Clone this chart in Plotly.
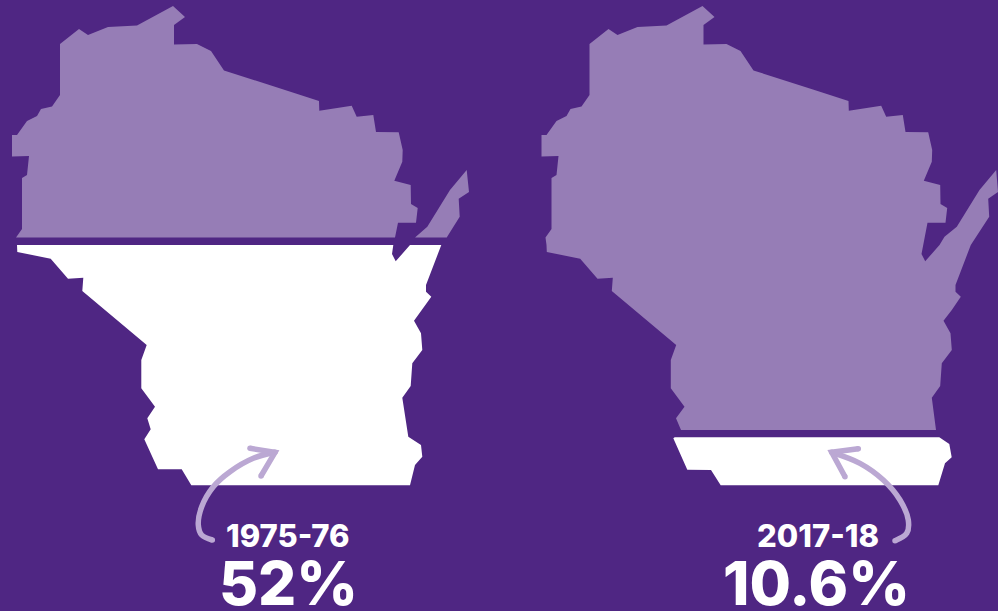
import plotly.graph_objects as go

PURPLE = "#4F2683"
LAVENDER = "#967DB6"
ARROW = "#BBA8D3"

# Outline vertices of the state
left_upper_x = [16,22,22,27,29,12,12,17,27,37,41,52,60,60,79,88,108,137,173,185,174,174,197,211,224,240,285,319,319.3,351.7,356.7,373.3,376,398.7,402.7,402.3,394.3,410.7,411,417.7,416,398,395]
left_upper_y = [237.5,229,178,175,156,156.5,135,135,121,116,109,106.5,95,44,29,35,27,25.5,6,17,25,44.5,44,51,70.5,75.5,90,101,110.7,105.7,116.7,115,132,132.3,150,161.7,180.7,185,204,208,222.7,222.7,237.5]
left_door_x = [415,427.3,450,466.7,469,458.7,459.7,446.7]
left_door_y = [237.5,226.7,190,170,192,198.7,216.7,237.5]
left_lower_x = [17,17.3,50.7,68,83.3,82.3,146.7,141.3,141.3,155,147.3,150.7,144.3,158,181.7,191.3,410,415,422.3,421,408.3,402.3,410.7,412.3,422.3,421,414,431.3,426,426,441.3,410,395.7,392,393.3]
left_lower_y = [245,252,258.7,278.7,277.7,291,345,360,388.3,406.7,418.3,429.3,439.3,469.3,469.3,485.3,485.3,465,456.7,445,436.7,397.7,386,363.3,350,333.3,320.7,296.7,291.7,285,245,245,261.3,254,245]

right_upper_x = [545.5,551.5,551.5,556.5,558.5,541.5,541.5,546.5,556.5,566.5,570.5,581.5,589.5,589.5,608.5,617.5,637.5,666.5,702.5,714.5,703.5,703.5,726.5,740.5,753.5,769.5,814.5,848.5,848.8,881.2,886.2,902.8,905.5,928.2,932.2,931.8,923.8,940.2,940.5,947.2,945.5,927.5,921.5,925.2,939.5,944.5,956.8,979.5,996.2,998,988.2,989.2,976.2,970.8,955.5,955.5,960.8,951.8,943.5,950.5,951.8,941.8,940.2,931.8,936,681,676,684.5,670.8,670.8,676.2,611.8,612.8,597.5,580.2,546.8,546.5]
right_upper_y = [237.5,229,178,175,156,156.5,135,135,121,116,109,106.5,95,44,29,35,27,25.5,6,17,25,44.5,44,51,70.5,75.5,90,101,110.7,105.7,116.7,115,132,132.3,150,161.7,180.7,185,204,208,222.7,222.7,254,261.3,245,236.7,226.7,190,170,192,198.7,216.7,237.5,245,285,291.7,296.7,310,320.7,333.3,350,363.3,386,397.7,430,430,418.3,406.7,388.3,360,345,291,277.7,278.7,258.7,252,245]
right_lower_x = [673.3,674.7,939.3,949.3,951.7,945,938.3,720.7,711,687.3]
right_lower_y = [438.3,437.3,437.3,444,457.3,463.3,485.3,485.3,470,469.7]

# Arrows
arrow_left_x = [212.3,201.7,198.3,201.7,213.3,230,253.3,275]
arrow_left_y = [540,535,525,506.7,486.7,471.7,458.3,452.3]
head_left_x = [250,275,261]
head_left_y = [448.3,452.3,476]
arrow_right_x = [895,906.7,908.3,900,883.3,860,831.7]
arrow_right_y = [540.7,533.3,520,500,480,463.3,452.3]
head_right_x = [858.3,831.7,845]
head_right_y = [448.7,452.3,476.7]

# Text
years = ["1975-76", "2017-18"]
shares = ["52%", "10.6%"]
year_x = [288, 818]
share_x = [288.5, 816.5]
year_y = [535, 535]
share_y = [582.5, 582.5]

fig = go.Figure()

def poly(x, y, color):
    fig.add_trace(go.Scatter(x=x, y=y, mode="lines", fill="toself", fillcolor=color,
                             line=dict(width=0, color=color), hoverinfo="skip", showlegend=False))

poly(left_upper_x, left_upper_y, LAVENDER)
poly(left_door_x, left_door_y, LAVENDER)
poly(left_lower_x, left_lower_y, "#FFFFFF")
poly(right_upper_x, right_upper_y, LAVENDER)
poly(right_lower_x, right_lower_y, "#FFFFFF")

def stroke(x, y, shape):
    fig.add_trace(go.Scatter(x=x, y=y, mode="lines", line=dict(color=ARROW, width=5.5, shape=shape, smoothing=1),
                             hoverinfo="skip", showlegend=False))
    fig.add_trace(go.Scatter(x=[x[0], x[-1]], y=[y[0], y[-1]], mode="markers",
                             marker=dict(color=ARROW, size=5.5, line=dict(width=0)),
                             hoverinfo="skip", showlegend=False))

stroke(arrow_left_x, arrow_left_y, "spline")
stroke(head_left_x, head_left_y, "linear")
stroke(arrow_right_x, arrow_right_y, "spline")
stroke(head_right_x, head_right_y, "linear")

for i in range(2):
    fig.add_annotation(x=year_x[i], y=year_y[i], text=years[i], showarrow=False, xanchor="center", yanchor="middle",
                       height=28, valign="middle",
                       font=dict(family="Inter, Lato, sans-serif", size=31, color="white", weight=800))
    fig.add_annotation(x=share_x[i], y=share_y[i], text=shares[i], showarrow=False, xanchor="center", yanchor="middle",
                       height=52, valign="middle",
                       font=dict(family="Inter, Lato, sans-serif", size=60, color="white", weight=800))

fig.update_layout(
    width=998, height=611, margin=dict(l=0, r=0, t=0, b=0),
    paper_bgcolor=PURPLE, plot_bgcolor=PURPLE, showlegend=False,
    xaxis=dict(range=[0, 998], visible=False, fixedrange=True),
    yaxis=dict(range=[611, 0], visible=False, fixedrange=True),
)
fig.write_html("out.html", config={"displayModeBar": False},
               post_script="document.body.style.margin='0';document.body.style.background='%s';" % PURPLE)
